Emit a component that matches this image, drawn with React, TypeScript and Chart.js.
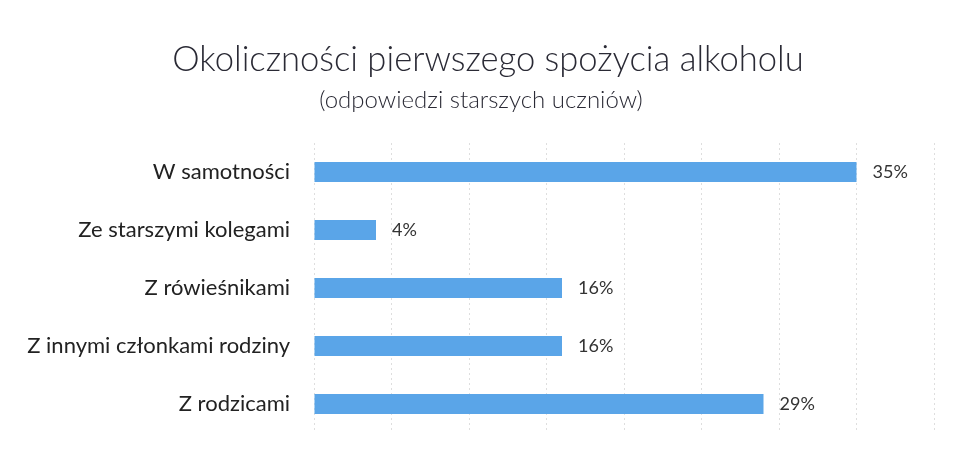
import React, { useEffect, useRef } from "react";
import { Chart, registerables } from "chart.js";

Chart.register(...registerables);

const titleText = "Okoliczności pierwszego spożycia alkoholu";
const subtitleText = "(odpowiedzi starszych uczniów)";
const categories = [
  "W samotności",
  "Ze starszymi kolegami",
  "Z rówieśnikami",
  "Z innymi członkami rodziny",
  "Z rodzicami",
];
const values = [35, 4, 16, 16, 29];
const axisMax = 40;
const axisStep = 5;

const headings = {
  id: "headings",
  afterDraw(chart: any) {
    const ctx = chart.ctx;
    ctx.save();
    ctx.fillStyle = "#2a2a35";
    ctx.textAlign = "center";
    ctx.textBaseline = "middle";
    ctx.font = '300 34.6px Lato, "Open Sans", sans-serif';
    ctx.fillText(titleText, 488, 60);
    ctx.font = '300 24px Lato, "Open Sans", sans-serif';
    ctx.fillText(subtitleText, 481, 100);
    ctx.restore();
  },
};

const valueLabels = {
  id: "valueLabels",
  afterDatasetsDraw(chart: any) {
    const ctx = chart.ctx;
    const meta = chart.getDatasetMeta(0);
    ctx.save();
    ctx.font = '18px Lato, "DejaVu Sans", sans-serif';
    ctx.fillStyle = "#333333";
    ctx.textAlign = "left";
    ctx.textBaseline = "middle";
    meta.data.forEach((el: any, i: number) => {
      ctx.fillText(values[i] + "%", el.x + 16, el.y);
    });
    ctx.restore();
  },
};

export default function App() {
  const ref = useRef<HTMLCanvasElement | null>(null);
  useEffect(() => {
    document.body.style.margin = "0";
    document.body.style.background = "#ffffff";
    const c = new Chart(ref.current as HTMLCanvasElement, {
      type: "bar",
      data: {
        labels: categories,
        datasets: [
          {
            data: values,
            backgroundColor: "#5aa5e8",
            borderWidth: 0,
            barPercentage: 0.345,
            categoryPercentage: 1,
          },
        ],
      },
      options: {
        indexAxis: "y",
        animation: false,
        responsive: false,
        maintainAspectRatio: false,
        layout: { padding: { left: 0, right: 23, bottom: 21, top: 143 } },
        plugins: {
          legend: { display: false },
          tooltip: { enabled: false },
          title: { display: false },
          subtitle: { display: false },
        },
        scales: {
          x: {
            min: 0,
            max: axisMax,
            ticks: { display: false, stepSize: axisStep },
            grid: { color: "#dedede", drawTicks: false, lineWidth: 1 },
            border: { display: false, dash: [2, 3] },
            afterFit: (s: any) => {
              s.height = 0;
            },
          },
          y: {
            ticks: {
              color: "#222222",
              padding: 24,
              font: { family: 'Lato, "DejaVu Sans", sans-serif', size: 22 },
            },
            grid: { display: false, drawTicks: false },
            border: { display: false },
            afterFit: (s: any) => {
              s.width = 314;
              s.paddingTop = 0;
              s.paddingBottom = 0;
            },
          },
        },
      },
      plugins: [valueLabels, headings],
    } as any);
    return () => c.destroy();
  }, []);
  return <canvas ref={ref} width={957} height={454} style={{ display: "block" }} />;
}
